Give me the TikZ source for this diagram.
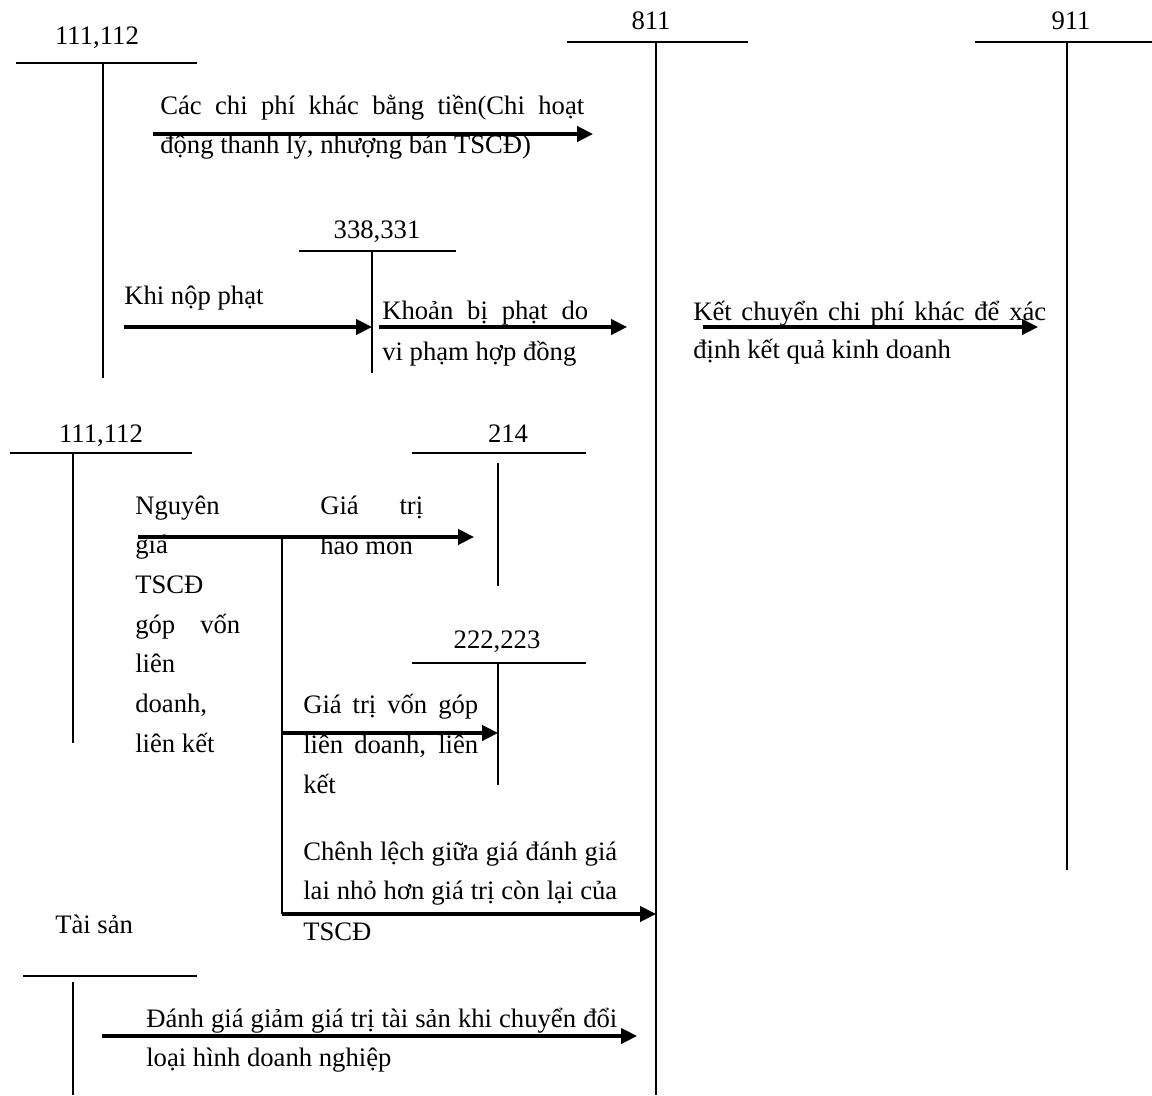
\documentclass[tikz,border=0pt]{standalone}
\usepackage{fontspec}
\setmainfont{Liberation Serif}
\usetikzlibrary{arrows.meta}
\newdimen\pxu \pxu=0.75pt
\newcommand\jl[2]{\makebox[#1\pxu][s]{#2}}
\begin{document}
\begin{tikzpicture}[x=0.75pt,y=-0.75pt,
  tline/.style={line width=1.5pt},
  flow/.style={line width=2.4pt,-{Triangle[length=12pt,width=11.5pt]}},
  lbl/.style={anchor=base,inner sep=0pt,font=\fontsize{20}{24}\selectfont},
  txt/.style={anchor=base west,inner sep=0pt,font=\fontsize{20}{24}\selectfont}]
\useasboundingbox (0,0) rectangle (1152,1095);

% ---------- T accounts ----------
% 111,112 (top)
\node[lbl] (a111) at (97,45) {111,112};
\coordinate (a111L) at (16,63);  \coordinate (a111R) at (197,63);
\coordinate (a111T) at (103,63); \coordinate (a111B) at (103,378);
\draw[tline] (a111L) -- (a111R) (a111T) -- (a111B);
% 811
\node[lbl] (a811) at (651,30) {811};
\coordinate (a811L) at (567,42);  \coordinate (a811R) at (748,42);
\coordinate (a811T) at (656,42);  \coordinate (a811B) at (656,1095);
\draw[tline] (a811L) -- (a811R) (a811T) -- (a811B);
% 911
\node[lbl] (a911) at (1071,30) {911};
\coordinate (a911L) at (975,42);  \coordinate (a911R) at (1152,42);
\coordinate (a911T) at (1067,42); \coordinate (a911B) at (1067,870);
\draw[tline] (a911L) -- (a911R) (a911T) -- (a911B);
% 338,331
\node[lbl] (a338) at (377,238) {338,331};
\coordinate (a338L) at (299,251); \coordinate (a338R) at (456,251);
\coordinate (a338T) at (372,251); \coordinate (a338B) at (372,373);
\draw[tline] (a338L) -- (a338R) (a338T) -- (a338B);
% 111,112 (second)
\node[lbl] (b111) at (101,442) {111,112};
\coordinate (b111L) at (10,453);  \coordinate (b111R) at (192,453);
\coordinate (b111T) at (73,453);  \coordinate (b111B) at (73,743);
\draw[tline] (b111L) -- (b111R) (b111T) -- (b111B);
% 214
\node[lbl] (a214) at (508,442) {214};
\coordinate (a214L) at (412,453); \coordinate (a214R) at (586,453);
\coordinate (a214T) at (498,463); \coordinate (a214B) at (498,586);
\draw[tline] (a214L) -- (a214R) (a214T) -- (a214B);
% 222,223
\node[lbl] (a222) at (497,648) {222,223};
\coordinate (a222L) at (412,663); \coordinate (a222R) at (586,663);
\coordinate (a222T) at (498,663); \coordinate (a222B) at (498,785);
\draw[tline] (a222L) -- (a222R) (a222T) -- (a222B);
% Tai san
\node[txt] (ats) at (55,933) {Tài sản};
\coordinate (atsL) at (23,976);   \coordinate (atsR) at (197,976);
\coordinate (atsT) at (73,982);   \coordinate (atsB) at (73,1095);
\draw[tline] (atsL) -- (atsR) (atsT) -- (atsB);

% ---------- arrows ----------
\coordinate (s1) at (153,134);  \coordinate (e1) at (593,134);
\draw[flow] (s1) -- (e1);
\coordinate (s2) at (124,327);  \coordinate (e2) at (a338B |- s2);
\draw[flow] (s2) -- (e2);
\coordinate (s3) at (379,327);  \coordinate (e3) at (627,327);
\draw[flow] (s3) -- (e3);
\coordinate (s4) at (703,327);  \coordinate (e4) at (1038,327);
\draw[flow] (s4) -- (e4);
\coordinate (s5) at (138,537);  \coordinate (e5) at (474,537);
\draw[flow] (s5) -- (e5);
\coordinate (br1) at (282,537); \coordinate (br2) at (282,914);
\draw[line width=1.7pt] (br1) -- (br2);
\coordinate (e6) at (a811T |- br2);
\draw[flow] (br2) -- (e6);
\coordinate (br3) at (282,733); \coordinate (e7) at (a222T |- br3);
\draw[flow] (br3) -- (e7);
\coordinate (s8) at (102,1036); \coordinate (e8) at (637,1036);
\draw[flow] (s8) -- (e8);

% ---------- texts ----------
\node[txt] (t1a) at (160,115) {\jl{424}{Các chi phí khác bằng tiền(Chi hoạt}};
\node[txt] (t1b) at (160,154) {động thanh lý, nhượng bán TSCĐ)};
\node[txt] (t2)  at (124,304) {Khi nộp phạt};
\node[txt] (t3a) at (382,319) {\jl{206}{Khoản bị phạt do}};
\node[txt] (t3b) at (382,360) {vi phạm hợp đồng};
\node[txt] (t4a) at (693,320) {\jl{353}{Kết chuyển chi phí khác để xác}};
\node[txt] (t4b) at (693,358) {định kết quả kinh doanh};
\node[txt] (t5a) at (135,514.0) {Nguyên};
\node[txt] (t5b) at (135,553.7) {giá};
\node[txt] (t5c) at (135,593.4) {TSCĐ};
\node[txt] (t5d) at (135,633.1) {\jl{105}{góp vốn}};
\node[txt] (t5e) at (135,672.8) {liên};
\node[txt] (t5f) at (135,712.5) {doanh,};
\node[txt] (t5g) at (135,752.2) {liên kết};
\node[txt] (t6a) at (320,514) {\jl{103}{Giá trị}};
\node[txt] (t6b) at (320,554) {hao mòn};
\node[txt] (t7a) at (303,713) {\jl{175}{Giá trị vốn góp}};
\node[txt] (t7b) at (303,753) {\jl{175}{liên doanh, liên}};
\node[txt] (t7c) at (303,793) {kết};
\node[txt] (t8a) at (303,860) {\jl{314}{Chênh lệch giữa giá đánh giá}};
\node[txt] (t8b) at (303,899) {\jl{314}{lai nhỏ hơn giá trị còn lại của}};
\node[txt] (t8c) at (303,940) {TSCĐ};
\node[txt] (t9a) at (146,1027) {\jl{471}{Đánh giá giảm giá trị tài sản khi chuyển đổi}};
\node[txt] (t9b) at (146,1066) {loại hình doanh nghiệp};
\end{tikzpicture}
\end{document}
